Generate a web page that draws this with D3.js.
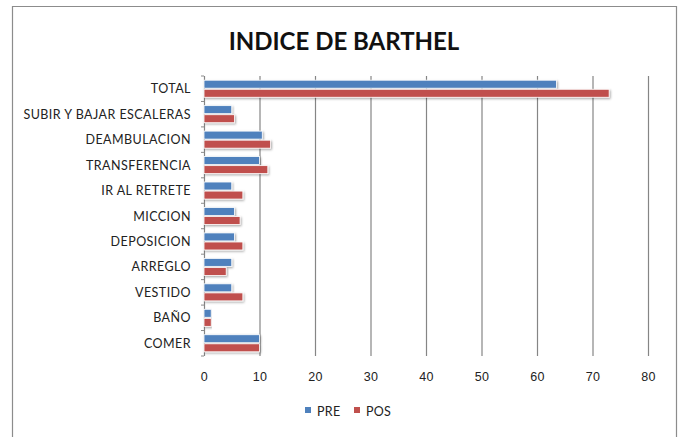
<!doctype html>
<html lang="es">
  <head>
    <meta charset="UTF-8" />
    <title>Indice de Barthel</title>
    <style>
      body {
        margin: 0;
        background: #fff;
      }
      svg {
        display: block;
        font-family: Lato, "Open Sans", sans-serif;
      }
      .cat text {
        font-size: 12.5px;
        letter-spacing: 0.45px;
        fill: #222;
      }
      .tick text {
        font-size: 12.5px;
        letter-spacing: 0.4px;
        fill: #222;
      }
    </style>
  </head>
  <body>
    <script src="https://cdn.jsdelivr.net/npm/d3@7"></script>
    <script>
      // chart data
      const categories = [
        "TOTAL",
        "SUBIR Y BAJAR ESCALERAS",
        "DEAMBULACION",
        "TRANSFERENCIA",
        "IR AL RETRETE",
        "MICCION",
        "DEPOSICION",
        "ARREGLO",
        "VESTIDO",
        "BAÑO",
        "COMER",
      ];
      const series = ["PRE", "POS"];
      const preValues = [63.5, 5, 10.5, 10, 5, 5.5, 5.5, 5, 5, 1.3, 10];
      const posValues = [73, 5.5, 12, 11.5, 7, 6.5, 7, 4, 7, 1.3, 10];
      const xTicks = [0, 10, 20, 30, 40, 50, 60, 70, 80];
      const colors = ["#4f81bd", "#c0504d"];

      const rows = categories.map((c, i) => ({
        cat: c,
        vals: [preValues[i], posValues[i]],
      }));

      const W = 680,
        H = 437;
      const svg = d3
        .select("body")
        .append("svg")
        .attr("width", W)
        .attr("height", H);

      // chart frame (bottom is cut off in the original)
      svg
        .append("path")
        .attr("d", "M12.5,437 V6.5 H676.5 V437")
        .attr("fill", "none")
        .attr("stroke", "#8c8c8c")
        .attr("stroke-width", 1.2);

      svg
        .append("text")
        .attr("x", 344)
        .attr("y", 50)
        .attr("text-anchor", "middle")
        .attr("font-size", 24)
        .attr("font-weight", "bold")
        .attr("fill", "#111")
        .text("INDICE DE BARTHEL");

      const x = d3.scaleLinear().domain([0, 80]).range([204, 648]);
      const y = d3
        .scaleBand()
        .domain(categories)
        .range([76, 356])
        .paddingInner(0.33)
        .paddingOuter(0.165);
      const ySub = d3
        .scaleBand()
        .domain(series)
        .range([0, y.bandwidth()])
        .paddingInner(0.12);

      const defs = svg.append("defs");
      const f = defs
        .append("filter")
        .attr("id", "shadow")
        .attr("x", "-5%")
        .attr("y", "-40%")
        .attr("width", "115%")
        .attr("height", "200%");
      f.append("feDropShadow")
        .attr("dx", 1)
        .attr("dy", 1.2)
        .attr("stdDeviation", 0.9)
        .attr("flood-color", "#000")
        .attr("flood-opacity", 0.35);

      // gridlines
      svg
        .append("g")
        .selectAll("line")
        .data(xTicks)
        .join("line")
        .attr("x1", (d) => x(d) + 0.5)
        .attr("x2", (d) => x(d) + 0.5)
        .attr("y1", 76)
        .attr("y2", 356)
        .attr("stroke", "#858585")
        .attr("stroke-width", 1.2);

      // small category ticks on the left of the axis
      svg
        .append("g")
        .selectAll("line")
        .data(d3.range(categories.length + 1))
        .join("line")
        .attr("x1", x(0) - 3)
        .attr("x2", x(0))
        .attr("y1", (i) => 76 + (i * 280) / categories.length)
        .attr("y2", (i) => 76 + (i * 280) / categories.length)
        .attr("stroke", "#8a8a8a");

      // x axis tick labels
      const xAxis = svg
        .append("g")
        .attr("transform", "translate(0,356)")
        .call(d3.axisBottom(x).tickValues(xTicks).tickSize(0).tickPadding(16));
      xAxis.select(".domain").remove();

      // category labels
      svg
        .append("g")
        .attr("class", "cat")
        .selectAll("text")
        .data(categories)
        .join("text")
        .attr("x", 191)
        .attr("y", (d) => y(d) + y.bandwidth() / 2)
        .attr("dy", "0.36em")
        .attr("text-anchor", "end")
        .text((d) => d);

      // bars
      const groups = svg
        .append("g")
        .selectAll("g")
        .data(rows)
        .join("g")
        .attr("transform", (d) => `translate(0,${y(d.cat)})`);
      groups
        .selectAll("rect")
        .data((d) => d.vals.map((v, i) => ({ s: series[i], v, i })))
        .join("rect")
        .attr("x", x(0))
        .attr("y", (d) => ySub(d.s))
        .attr("width", (d) => x(d.v) - x(0))
        .attr("height", ySub.bandwidth())
        .attr("fill", (d) => colors[d.i])
        .attr("stroke", "#fff")
        .attr("stroke-width", 0.8)
        .attr("filter", "url(#shadow)");

      // legend
      const leg = svg
        .append("g")
        .selectAll("g")
        .data(series)
        .join("g")
        .attr("transform", (d, i) => `translate(${305 + i * 49},411)`);
      leg
        .append("rect")
        .attr("x", 0)
        .attr("y", -4)
        .attr("width", 6)
        .attr("height", 6)
        .attr("fill", (d, i) => colors[i]);
      leg
        .append("text")
        .attr("x", 12)
        .attr("y", 0)
        .attr("dy", "0.36em")
        .attr("font-size", 12.5)
        .attr("letter-spacing", 0.3)
        .attr("fill", "#222")
        .text((d) => d);
    </script>
  </body>
</html>
